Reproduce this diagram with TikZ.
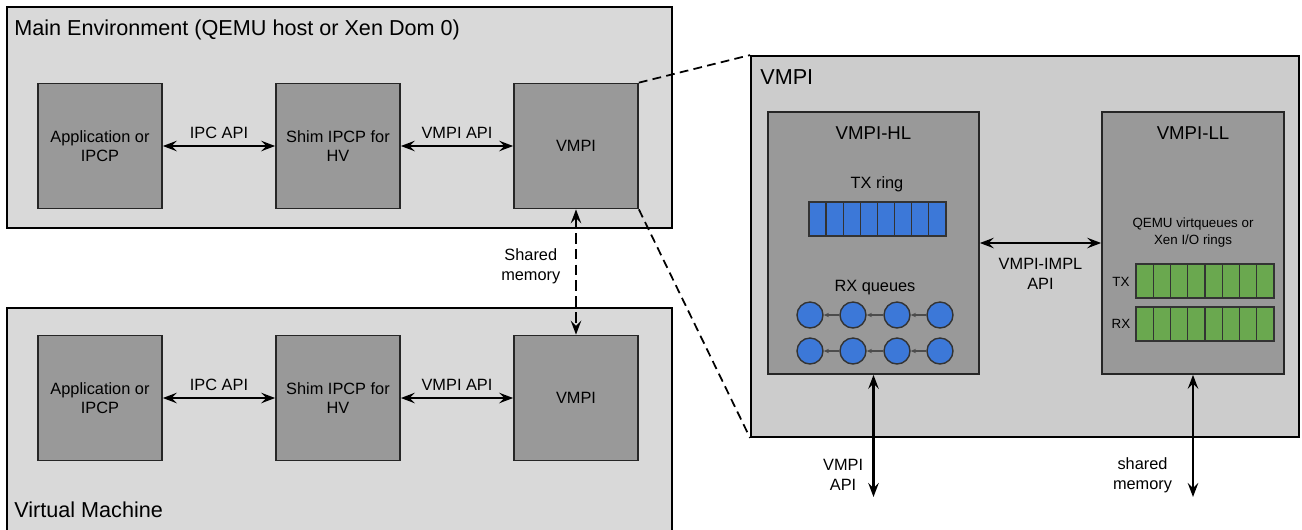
\documentclass[tikz,border=0pt]{standalone}
\usepackage{fontspec}
\setmainfont{Liberation Sans}
\usepackage{tikz}
\usetikzlibrary{arrows.meta}
\usetikzlibrary{calc}

\definecolor{envgray}{RGB}{217,217,217}
\definecolor{vmpigray}{RGB}{204,204,204}
\definecolor{blockgray}{RGB}{153,153,153}
\definecolor{ringblue}{RGB}{60,120,216}
\definecolor{ringgreen}{RGB}{106,168,79}

\begin{document}
\begin{tikzpicture}[x=0.02cm, y=-0.02cm,
        env_style/.style={draw=black, fill=envgray, line width=1.1pt, inner sep=0pt},
        vmpi_style/.style={draw=black, fill=vmpigray, line width=1.1pt, inner sep=0pt},
        block_style/.style={draw=black!85, fill=blockgray, line width=1pt, inner sep=0pt, minimum width=2.48cm, minimum height=2.5cm, align=center, font=\fontsize{9.3}{10.8}\selectfont},
        title_text/.style={inner sep=0pt, font=\fontsize{12.3}{14}\selectfont},
        sub_title/.style={inner sep=0pt, font=\fontsize{10.6}{12}\selectfont},
        label_text/.style={align=center, font=\fontsize{9.3}{11.4}\selectfont},
        small_text/.style={align=center, inner sep=0pt, font=\fontsize{7.6}{9.7}\selectfont},
        tx_cell/.style={draw=black!80, fill=ringblue, line width=0.8pt, inner sep=0pt, minimum width=0.342cm, minimum height=0.68cm},
        ll_cell/.style={draw=black!80, fill=ringgreen, line width=0.8pt, inner sep=0pt, minimum width=0.345cm, minimum height=0.68cm},
        queue_node/.style={circle, draw=black!80, fill=ringblue, line width=0.8pt, inner sep=0pt, minimum size=0.52cm},
        queue_link/.style={-{Stealth[length=3pt,width=2.5pt]}, draw=black!70, line width=0.6pt},
        api_edge/.style={{Stealth[length=8pt,width=6pt,inset=3pt]}-{Stealth[length=8pt,width=6pt,inset=3pt]}, line width=1.2pt},
        zoom_edge/.style={dashed, line width=1pt, dash pattern=on 5pt off 3pt}]

        \useasboundingbox (0,0) rectangle (1302,529);

        % left side: host and guest
        \node [env_style, minimum width=13.3cm, minimum height=4.42cm](main_env) at (339.5,117.5) {};

        \node [title_text, anchor=west](main_title) at (14,30) {Main Environment (QEMU host or Xen Dom 0)};

        \node [env_style, minimum width=13.3cm, minimum height=4.48cm](vm_env) at (339.5,420) {};

        \node [title_text, anchor=west](vm_title) at (14,510) {Virtual Machine};

        \node [block_style](app1) at (100,146) {Application or\\IPCP};

        \node [block_style](shim1) at (338,146) {Shim IPCP for\\HV};

        \node [block_style](vmpi1) at (576,146) {VMPI};

        \node [block_style](app2) at (100,398) {Application or\\IPCP};

        \node [block_style](shim2) at (338,398) {Shim IPCP for\\HV};

        \node [block_style](vmpi2) at (576,398) {VMPI};

        \draw [api_edge] (app1) -- node[label_text, above=0.5pt]{IPC API} (shim1);

        \draw [api_edge] (shim1) -- node[label_text, above=0.5pt]{VMPI API} (vmpi1);

        \draw [api_edge] (app2) -- node[label_text, above=0.5pt]{IPC API} (shim2);

        \draw [api_edge] (shim2) -- node[label_text, above=0.5pt]{VMPI API} (vmpi2);

        \draw [api_edge, dashed, dash pattern=on 6pt off 3pt] (vmpi1.south) -- node[label_text, left=5pt, yshift=3pt]{Shared\\memory} (vmpi2.north);

        % right side: VMPI detail
        \node [vmpi_style, minimum width=10.96cm, minimum height=7.62cm](vmpi_big) at (1025,246.5) {};

        \node [title_text, anchor=west](vmpi_title) at (760,77) {VMPI};

        \draw [zoom_edge] (vmpi1.north east) -- (vmpi_big.north west);

        \draw [zoom_edge] (vmpi1.south east) -- (vmpi_big.south west);

        \node [block_style, minimum width=4.22cm, minimum height=5.24cm](vmpi_hl) at (873.5,243) {};

        \node [sub_title](hl_title) at (873.5,133) {VMPI-HL};

        \node [block_style, minimum width=3.64cm, minimum height=5.24cm](vmpi_ll) at (1193,243) {};

        \node [sub_title](ll_title) at (1193,133) {VMPI-LL};

        \node [label_text, inner sep=0pt](tx_title) at (877,184) {TX ring};

        \foreach \i in {0,...,7} {
            \node [tx_cell](tx\i) at ({817.6+17.1*\i},219) {};
        }

        \node [label_text, inner sep=0pt](rx_title) at (875,288) {RX queues};

        \foreach \r/\yy in {1/315, 2/351} {
            \foreach \i/\xx in {1/810, 2/853, 3/897, 4/940} {
                \node [queue_node](q\r\i) at (\xx,\yy) {};
            }
            \foreach \a/\b in {2/1, 3/2, 4/3} {
                \draw [queue_link] (q\r\a) -- (q\r\b);
            }
        }

        \node [small_text](ll_rings) at (1193,233) {QEMU virtqueues or\\Xen I/O rings};

        \node [small_text](ll_tx) at (1121,282) {TX};

        \node [small_text](ll_rx) at (1121,324) {RX};

        \foreach \i in {0,...,7} {
            \node [ll_cell](lltx\i) at ({1144.6+17.25*\i},281) {};
            \node [ll_cell](llrx\i) at ({1144.6+17.25*\i},324) {};
        }

        \draw [api_edge] (vmpi_hl) -- node[label_text, below=5pt]{VMPI-IMPL\\API} (vmpi_ll);

        \coordinate (hl_out) at (873.5,497);

        \coordinate (ll_out) at (1193,497);

        \draw [api_edge] (vmpi_hl.south) -- node[label_text, pos=0.82, left=2pt]{VMPI\\API} (hl_out);

        \draw [api_edge] (vmpi_ll.south) -- node[label_text, pos=0.82, left=8pt]{shared\\memory} (ll_out);

        \end{tikzpicture}
\end{document}
